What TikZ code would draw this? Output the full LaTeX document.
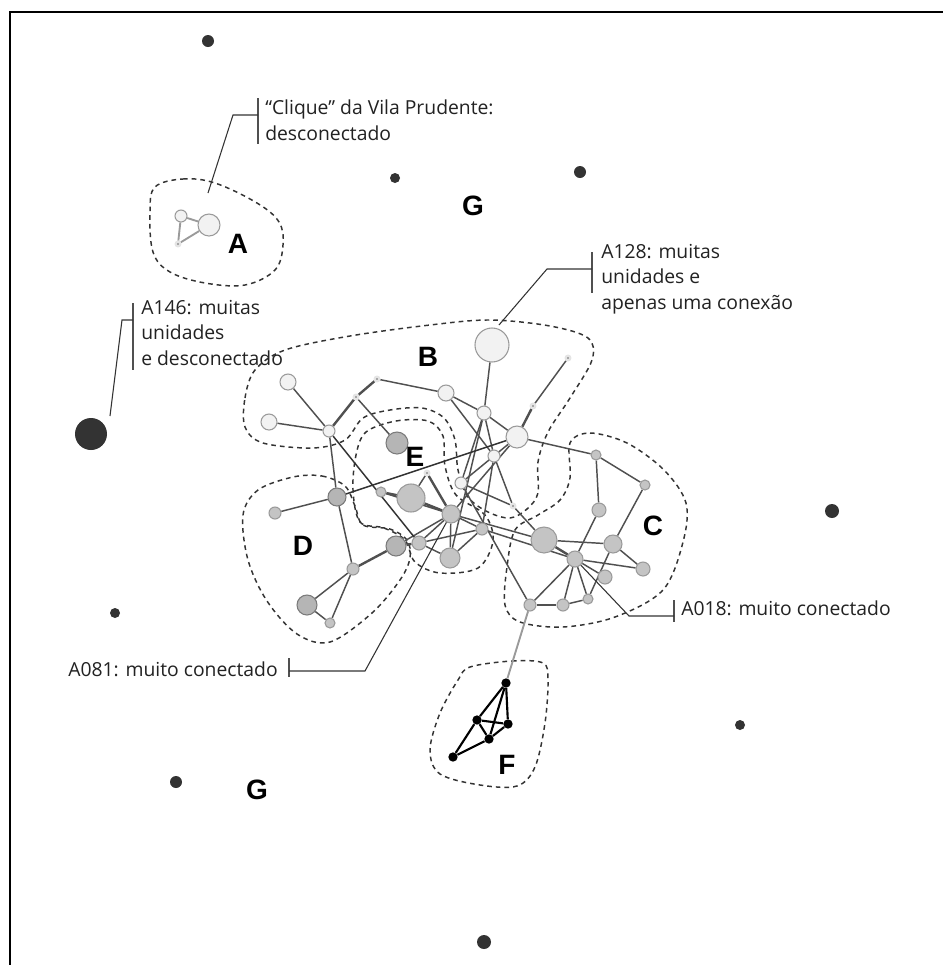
\documentclass[tikz,border=0pt]{standalone}
\usepackage{fontspec}
\setmainfont{Open Sans}
\newfontfamily\labelfont{Liberation Sans}
\usetikzlibrary{backgrounds}
\definecolor{nwInk}{HTML}{222222}
\definecolor{nwEdge}{HTML}{505050}
\definecolor{nwLight}{HTML}{F2F2F2}
\definecolor{nwMid}{HTML}{C4C4C4}
\definecolor{nwDeep}{HTML}{B5B5B5}
\definecolor{nwRim}{HTML}{9A9A9A}
\definecolor{nwDark}{HTML}{333333}
\definecolor{nwHalo}{HTML}{E4E4E4}
\tikzset{
  lnode/.style={circle,inner sep=0pt,minimum size=0.75pt*#1,
    fill=nwLight,draw=nwRim,line width=0.8pt},
  mnode/.style={circle,inner sep=0pt,minimum size=0.75pt*#1,
    fill=nwMid,draw=nwRim,line width=0.8pt},
  dnode/.style={circle,inner sep=0pt,minimum size=0.75pt*#1,
    fill=nwDeep,draw=nwRim!80!black,line width=0.8pt},
  tnode/.style={circle,inner sep=0pt,minimum size=3.5pt,
    fill=nwRim,draw=nwHalo,line width=1.6pt},
  knode/.style={circle,inner sep=0pt,minimum size=7pt,fill=black},
  gnode/.style={circle,inner sep=0pt,minimum size=0.75pt*#1,fill=nwDark},
  edge/.style={draw=nwEdge,line width=1.1pt},
  edgeb/.style={draw=nwEdge,line width=1.8pt},
  edged/.style={draw=nwDark,line width=1.1pt},
  edgel/.style={draw=nwRim,line width=1.4pt},
  edgek/.style={draw=black,line width=1.6pt},
  hull/.style={draw=nwDark,line width=1.1pt,dash pattern=on 3.5pt off 3pt},
  clab/.style={font=\labelfont\bfseries\fontsize{21}{21}\selectfont,
    text=black,inner sep=0pt},
  note/.style={font=\fontsize{14.5}{19}\selectfont,text=nwInk,
    align=left,inner sep=0pt},
  notebar/.style={draw=nwEdge,line width=1.4pt},
  leader/.style={draw=nwDark,line width=0.8pt},
}
\begin{document}
\begin{tikzpicture}[x=0.75pt,y=-0.75pt]
  \useasboundingbox (0,0) rectangle (943,965);
  \clip (0,0) rectangle (943,965);

  % isolated units (G)
  \node[gnode=12] (g1) at (208,41) {};
  \node[gnode=10] (g2) at (395,178) {};
  \node[gnode=12] (g3) at (580,172) {};
  \node[gnode=32] (g4) at (91,434) {};
  \node[gnode=14] (g5) at (832,511) {};
  \node[gnode=10] (g6) at (115,613) {};
  \node[gnode=10] (g7) at (740,725) {};
  \node[gnode=12] (g8) at (176,782) {};
  \node[gnode=14] (g9) at (484,942) {};

  % A
  \node[lnode=12] (a1) at (181,216) {};
  \node[lnode=22] (a2) at (209,225) {};
  \node[tnode] (a3) at (178,244) {};

  % B
  \node[lnode=16] (b1) at (288,382) {};
  \node[lnode=16] (b2) at (269,422) {};
  \node[lnode=12] (b3) at (329,431) {};
  \node[tnode] (b4) at (377,379) {};
  \node[tnode] (b5) at (356,397) {};
  \node[lnode=16] (b6) at (446,393) {};
  \node[lnode=34] (b7) at (492,345) {};
  \node[tnode] (b8) at (568,358) {};
  \node[lnode=14] (b9) at (484,413) {};
  \node[tnode] (b10) at (533,406) {};
  \node[lnode=22] (b11) at (517,437) {};
  \node[lnode=12] (b12) at (494,456) {};
  \node[lnode=12] (b13) at (461,483) {};
  \node[tnode] (b14) at (513,506) {};

  % E
  \node[dnode=22] (e1) at (397,443) {};
  \node[tnode] (e2) at (427,473) {};
  \node[mnode=10] (e3) at (381,492) {};
  \node[mnode=28] (e4) at (411,498) {};
  \node[mnode=18] (hub81) at (451,514) {};
  \node[mnode=12] (e5) at (482,529) {};
  \node[mnode=14] (e6) at (419,543) {};
  \node[mnode=20] (e7) at (450,558) {};

  % D
  \node[dnode=18] (d1) at (337,497) {};
  \node[mnode=12] (d2) at (275,513) {};
  \node[dnode=20] (d3) at (396,546) {};
  \node[mnode=12] (d4) at (353,569) {};
  \node[dnode=20] (d5) at (307,605) {};
  \node[mnode=10] (d6) at (330,623) {};

  % C
  \node[mnode=10] (c1) at (596,455) {};
  \node[mnode=14] (c2) at (599,510) {};
  \node[mnode=10] (c3) at (645,485) {};
  \node[mnode=26] (c4) at (544,540) {};
  \node[mnode=18] (c5) at (613,544) {};
  \node[mnode=16] (hub18) at (575,559) {};
  \node[mnode=14] (c7) at (643,569) {};
  \node[mnode=14] (c8) at (605,577) {};
  \node[mnode=12] (c9) at (530,605) {};
  \node[mnode=12] (c10) at (563,605) {};
  \node[mnode=10] (c11) at (588,599) {};

  % F
  \node[knode] (f1) at (506,683) {};
  \node[knode] (f2) at (477,720) {};
  \node[knode] (f3) at (508,724) {};
  \node[knode] (f4) at (489,739) {};
  \node[knode] (f5) at (453,757) {};

  % cluster letters
  \node[clab] (labA) at (238,244) {A};
  \node[clab] (labB) at (428,357) {B};
  \node[clab] (labC) at (653,526) {C};
  \node[clab] (labD) at (303,546) {D};
  \node[clab] (labE) at (415,457) {E};
  \node[clab] (labF) at (507,765) {F};
  \node[clab] (labG1) at (473,206) {G};
  \node[clab] (labG2) at (257,790) {G};

  \begin{scope}[on background layer]
    \fill[white] (0,0) rectangle (943,965);
    % hulls
    \draw[hull] plot[smooth cycle,tension=0.6] coordinates {
      (155,187) (183,179) (215,183) (257,203) (279,222) (283,245)
      (275,270) (245,285) (205,283) (170,272) (153,252) (150,212)};
    \draw[hull] plot[smooth cycle,tension=0.55] coordinates {
      (245,427) (245,398) (255,370) (285,350) (350,336) (430,325)
      (490,320) (550,326) (588,338) (592,360) (570,398) (548,432)
      (538,462) (538,493) (527,509) (510,518) (488,512) (468,497)
      (458,470) (455,440) (444,418) (422,408) (390,410) (363,418)
      (345,440) (313,448) (263,443)};
    \draw[hull] plot[smooth cycle,tension=0.55] coordinates {
      (366,432) (396,421) (428,421) (443,436) (445,466) (456,495)
      (485,515) (493,541) (478,568) (440,573) (415,562) (405,540)
      (384,528) (360,522) (353,490) (356,455)};
    \draw[hull] plot[smooth cycle,tension=0.55] coordinates {
      (293,477) (322,476) (345,486) (355,506) (363,525) (390,529)
      (407,540) (410,558) (400,580) (372,613) (330,642) (297,634)
      (267,601) (248,560) (243,515) (258,490)};
    \draw[hull] plot[smooth cycle,tension=0.55] coordinates {
      (570,443) (590,433) (627,443) (664,470) (686,503) (683,542)
      (663,590) (615,617) (563,627) (520,622) (505,605) (507,567)
      (515,530) (538,515) (560,500) (570,478)};
    \draw[hull] plot[smooth cycle,tension=0.55] coordinates {
      (470,667) (512,661) (543,663) (548,680) (545,723) (535,767)
      (517,786) (480,785) (440,774) (430,750) (440,713) (458,680)};

    % links
    \foreach \u/\v in {a1/a2,a1/a3,a3/a2}
      \draw[edgel] (\u) -- (\v);
    \foreach \u/\v in {b1/b3,b2/b3,b4/b6,b5/e1,b3/d1,b6/b9,b6/b12,
        b7/b9,b9/b11,b9/b13,b9/e7,b9/b12,b10/b8,b11/c1,b11/b13,
        b11/hub81,b12/e5,b12/b14,b13/b14,b13/c9,e2/e4,hub81/e6,
        hub81/e7,hub81/e5,hub81/d3,hub81/c4,e3/hub81,e6/e5,e7/e5,
        e6/e7,d2/d1,d1/d4,d4/d5,d4/d6,d5/d6,b14/c4,c4/c5,c1/c2,
        c1/c3,c2/hub18,c3/c5,c5/c11,c5/c7,hub18/c7,hub18/c8,
        hub18/c9,hub18/c10,hub18/c11,c10/c11,hub18/e5}
      \draw[edge] (\u) -- (\v);
    \foreach \u/\v in {b3/b5,b5/b4,b11/b10,e2/hub81,e3/e4,e4/hub81,
        d3/e6,d4/d3,c4/hub18,c9/c10}
      \draw[edgeb] (\u) -- (\v);
    \foreach \u/\v in {b3/e6,d1/b11}
      \draw[edged] (\u) -- (\v);
    \draw[edgel] (c9) -- (f1);
    \foreach \u/\v in {f1/f2,f1/f3,f1/f4,f2/f3,f2/f4,f3/f4,f2/f5,f4/f5}
      \draw[edgek] (\u) -- (\v);
  \end{scope}

  % notes
  \node[note,anchor=base west] (noteA) at (265,140)
    {“Clique” da Vila Prudente:\\desconectado};
  \coordinate (tipA) at (208,193);
  \draw[notebar] (258,98) -- (258,144);
  \draw[leader] (258,115) -- (233,115) -- (tipA);

  \node[note,anchor=base west] (note146) at (141,365)
    {A146: muitas\\unidades\\e desconectado};
  \coordinate (tip146) at (110,416);
  \draw[notebar] (133,303) -- (133,370);
  \draw[leader] (133,320) -- (122,320) -- (tip146);

  \node[note,anchor=base west] (note128) at (601,309)
    {A128: muitas\\unidades e\\apenas uma conexão};
  \coordinate (tip128) at (499,325);
  \draw[notebar] (592,252) -- (592,293);
  \draw[leader] (592,269) -- (547,269) -- (tip128);

  \node[note,anchor=base west] (note18) at (681,615) {A018: muito conectado};
  \draw[notebar] (674,600) -- (674,622);
  \draw[leader] (674,616) -- (629,616) -- (hub18);

  \node[note,anchor=base east] (note81) at (278,676) {A081: muito conectado};
  \draw[notebar] (289,658) -- (289,677);
  \draw[leader] (289,671) -- (365,671) -- (hub81);

  % frame
  \draw[line width=2pt] (10,12) rectangle (990,1000);
\end{tikzpicture}
\end{document}
